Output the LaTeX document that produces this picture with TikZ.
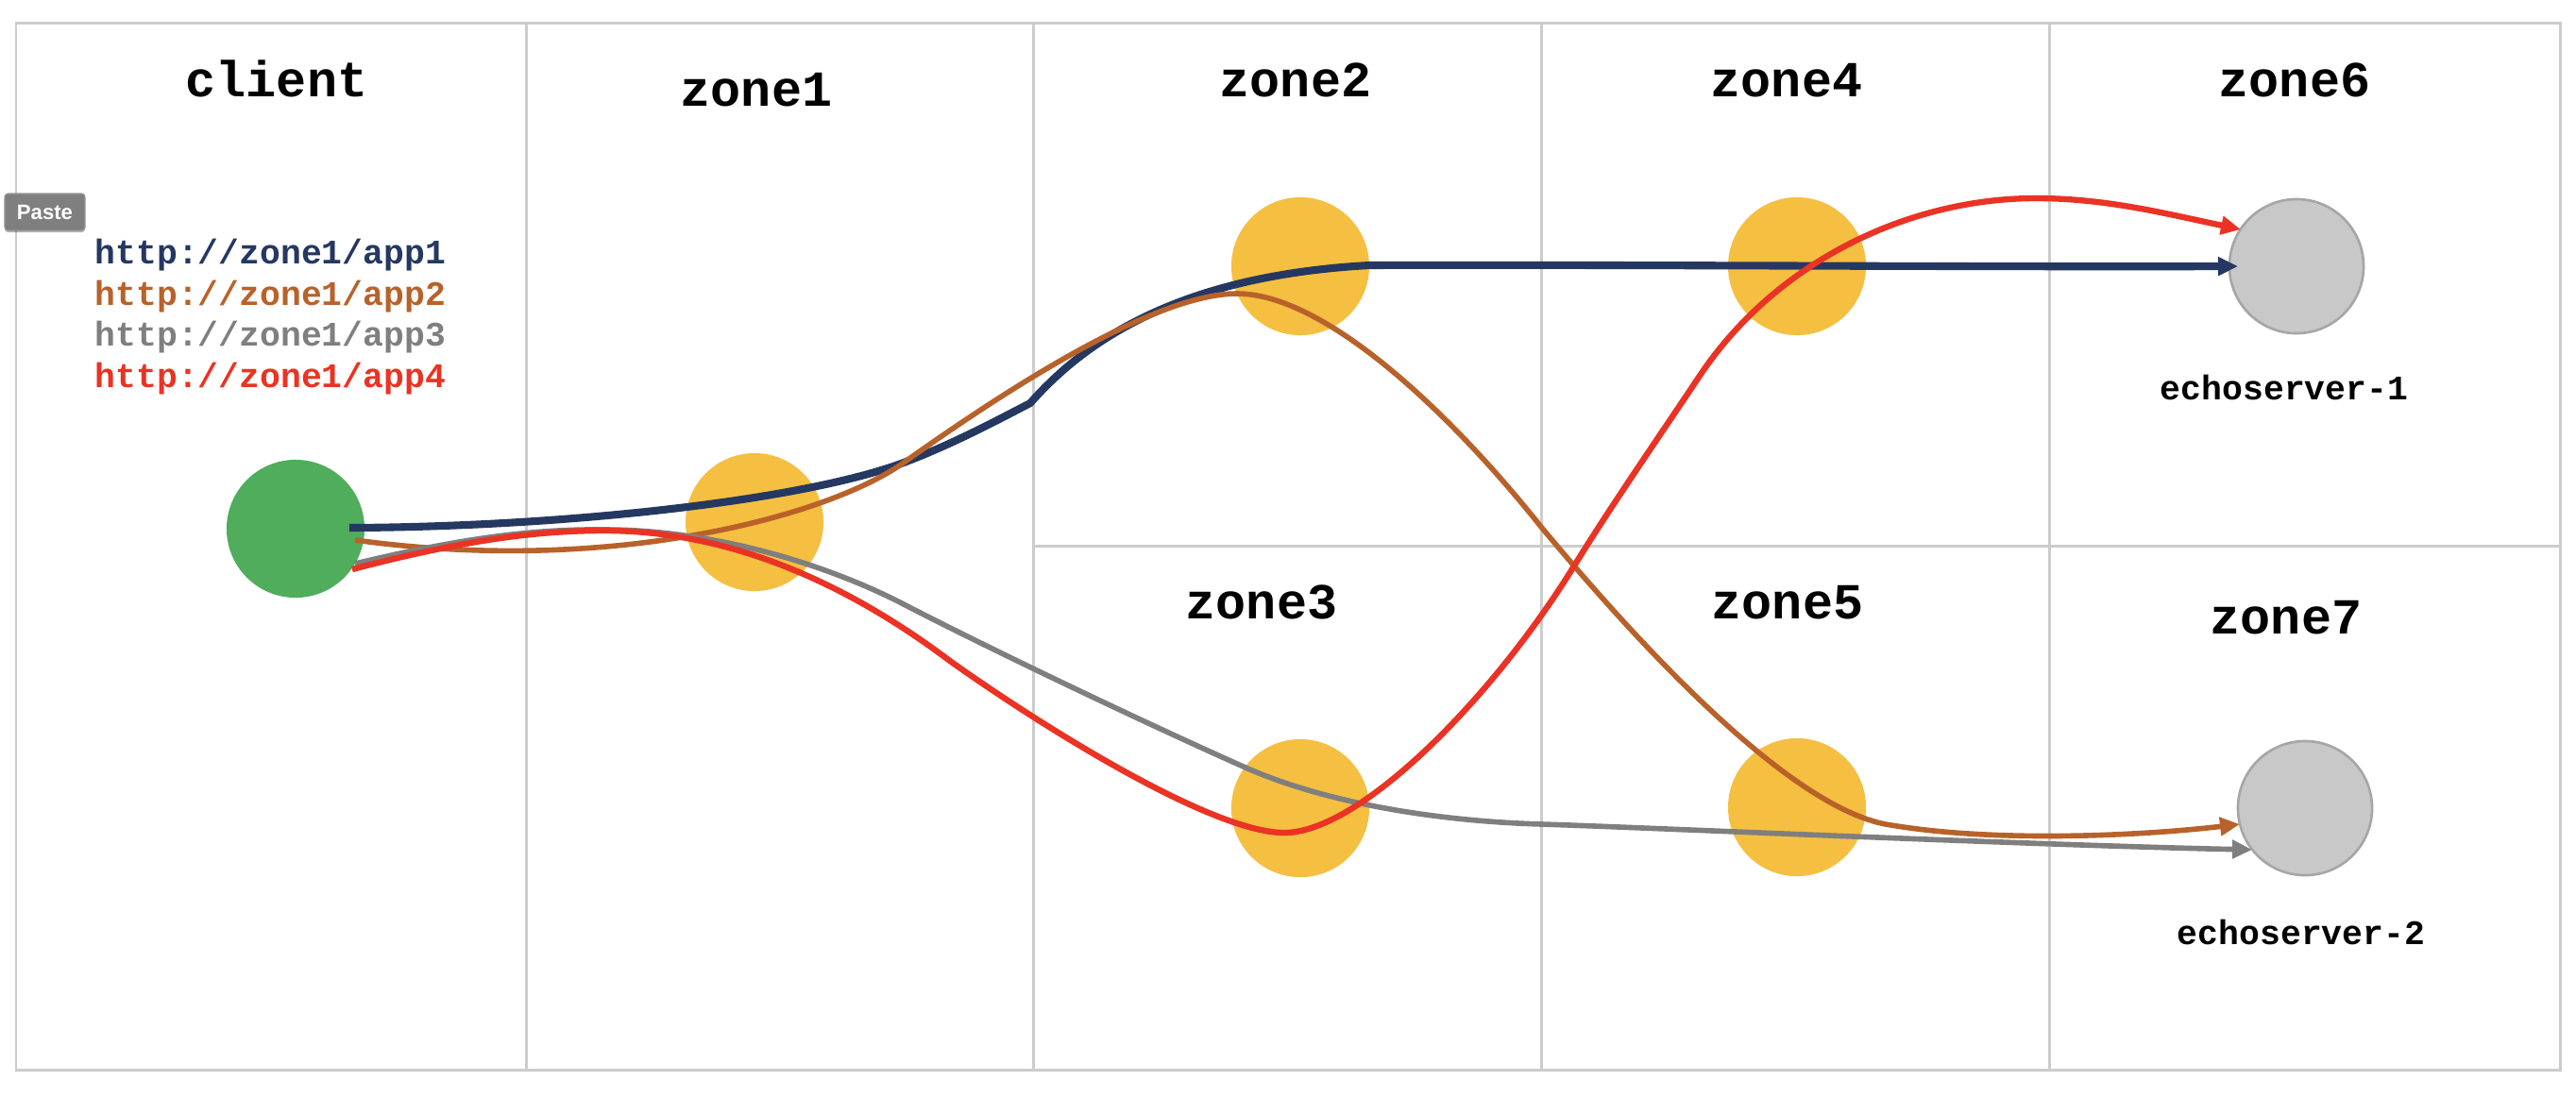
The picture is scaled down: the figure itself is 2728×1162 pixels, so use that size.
\documentclass[tikz,border=0pt]{standalone}
\usepackage{fontspec}
\newfontfamily\monob{Liberation Mono}
\newfontfamily\pastef{Liberation Sans}
\usetikzlibrary{arrows.meta,calc,shadows}
\definecolor{cnavy}{HTML}{253861}
\definecolor{corange}{HTML}{B8622A}
\definecolor{cgrayl}{HTML}{7F7F7F}
\definecolor{cred}{HTML}{EA3324}
\definecolor{cgreen}{HTML}{4FAD5B}
\definecolor{cyellow}{HTML}{F5BF42}
\definecolor{cecho}{HTML}{C8C8C8}
\definecolor{cechob}{HTML}{A6A6A6}
\definecolor{cgrid}{HTML}{CCCCCC}
\definecolor{cpaste}{HTML}{7F7F7F}
\begin{document}
\begin{tikzpicture}[x=0.01cm,y=-0.01cm,
  gridline/.style={draw=cgrid,line width=0.85pt},
  zonetitle/.style={anchor=base,inner sep=0pt,font=\monob\bfseries\fontsize{15.2}{18}\selectfont},
  urltext/.style={anchor=base west,inner sep=0pt,font=\monob\bfseries\fontsize{10.35}{12}\selectfont},
  echolabel/.style={anchor=base,inner sep=0pt,font=\monob\bfseries\fontsize{10.35}{12}\selectfont},
  clientnode/.style={circle,fill=cgreen,minimum size=1.46cm,inner sep=0pt},
  yelnode/.style={circle,fill=cyellow,minimum size=1.46cm,inner sep=0pt},
  echonode/.style={circle,fill=cecho,draw=cechob,line width=0.75pt,minimum size=1.42cm,inner sep=0pt},
  conn/.style={-{Triangle[length=0.21cm,width=0.19cm]}},
  app1/.style={conn,draw=cnavy,line width=2.3pt},
  app2/.style={conn,draw=corange,line width=1.6pt},
  app3/.style={conn,draw=cgrayl,line width=1.6pt},
  app4/.style={conn,draw=cred,line width=1.8pt},
  pastebtn/.style={rounded corners=1pt,fill=cpaste,draw=cpaste!80!white,line width=0.3pt,
    minimum width=0.85cm,minimum height=0.39cm,inner sep=0pt,text=white,
    font=\pastef\bfseries\fontsize{6.3}{7}\selectfont,
    drop shadow={shadow xshift=0pt,shadow yshift=-0.6pt,opacity=0.3,fill=black}}
]
\path[use as bounding box,fill=white] (0,0) rectangle (2728,1162);

% grid
\draw[gridline] (17,24) rectangle (2711,1133);
\draw[gridline] (557,24) -- (557,1133);
\draw[gridline] (1094,24) -- (1094,1133);
\draw[gridline] (1632,24) -- (1632,1133);
\draw[gridline] (2170,24) -- (2170,1133);
\draw[gridline] (1094,578) -- (2711,578);

% titles
\node[zonetitle] (tclient) at (293,102) {client};
\node[zonetitle] (tz1) at (801,112) {zone1};
\node[zonetitle] (tz2) at (1372,102) {zone2};
\node[zonetitle] (tz4) at (1892,102) {zone4};
\node[zonetitle] (tz6) at (2430,102) {zone6};
\node[zonetitle] (tz3) at (1336,655) {zone3};
\node[zonetitle] (tz5) at (1893,655) {zone5};
\node[zonetitle] (tz7) at (2421,671) {zone7};

% url list
\node[urltext,text=cnavy] (u1) at (100,279) {http://zone1/app1};
\node[urltext,text=corange] (u2) at (100,323) {http://zone1/app2};
\node[urltext,text=cgrayl] (u3) at (100,366) {http://zone1/app3};
\node[urltext,text=cred] (u4) at (100,410) {http://zone1/app4};

% nodes
\node[clientnode] (cl) at (313,560) {};
\node[yelnode] (z1) at (799,553) {};
\node[yelnode] (z2) at (1377,282) {};
\node[yelnode] (z4) at (1903,282) {};
\node[yelnode] (z3) at (1377,856) {};
\node[yelnode] (z5) at (1903,855) {};
\node[echonode] (e1) at (2432,282) {};
\node[echonode] (e2) at (2441,856) {};
\node[echolabel] (l1) at (2419,423) {echoserver-1};
\node[echolabel] (l2) at (2437,1000) {echoserver-2};

% connector end points
\coordinate (s1) at ($(cl)+(57,-1)$);
\coordinate (s2) at ($(cl)+(63,12)$);
\coordinate (s3) at ($(cl)+(63,37)$);
\coordinate (s4) at ($(cl)+(60,43)$);
\coordinate (t1) at ($(e1)+(-62,0)$);
\coordinate (t4) at ($(e1)+(-59,-39)$);
\coordinate (t2) at ($(e2)+(-69,17)$);
\coordinate (t3) at ($(e2)+(-56,44)$);

% connectors
\draw[app1] (s1) .. controls (600,558) and (850,530) .. (957,490)
  .. controls (1010,470) and (1060,443) .. (1091,427)
  .. controls (1150,360) and (1250,292) .. (1450,281)
  .. controls (1650,280) and (2150,283) .. (t1);
\draw[app2] (s2) .. controls (650,610) and (880,545) .. (957,490)
  .. controls (1057,419) and (1220,311) .. (1310,311)
  .. controls (1400,311) and (1530,430) .. (1632,558)
  .. controls (1740,688) and (1900,860) .. (2003,874)
  .. controls (2110,892) and (2260,886) .. (t2);
\draw[app3] (s3) .. controls (480,572) and (560,560) .. (640,561)
  .. controls (760,561) and (880,600) .. (957,640)
  .. controls (1040,683) and (1200,760) .. (1319,813)
  .. controls (1410,853) and (1530,870) .. (1633,873)
  .. controls (1733,876) and (2150,895) .. (t3);
\draw[app4] (s4) .. controls (480,575) and (560,562) .. (640,562)
  .. controls (800,562) and (930,643) .. (1006,700)
  .. controls (1090,760) and (1280,882) .. (1360,882)
  .. controls (1440,882) and (1580,740) .. (1666,601)
  .. controls (1706,536) and (1760,458) .. (1800,398)
  .. controls (1880,278) and (2020,210) .. (2156,210)
  .. controls (2230,210) and (2292,226) .. (t4);

% paste button
\node[pastebtn] (paste) at (47.5,224.5) {Paste};
\end{tikzpicture}
\end{document}
